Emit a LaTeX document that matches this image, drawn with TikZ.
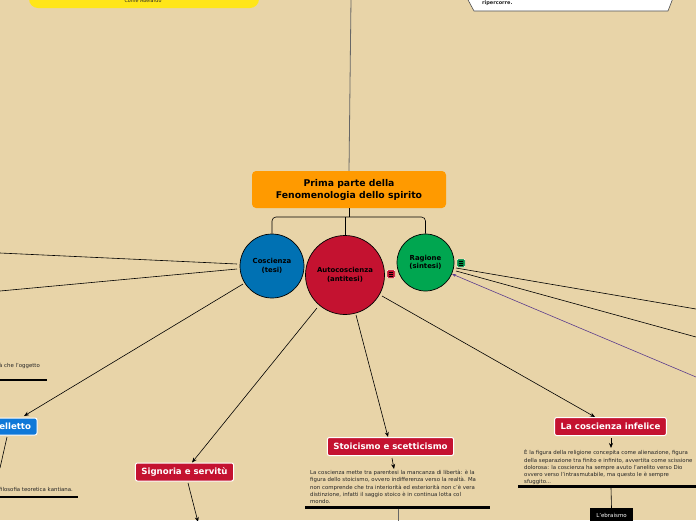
\documentclass[tikz,border=0pt]{standalone}
\usepackage{fontspec}
\setmainfont{DejaVu Sans}
\usetikzlibrary{arrows.meta}
\definecolor{bg}{HTML}{E8D4A8}
\definecolor{orangeN}{HTML}{FF9A00}
\definecolor{blueN}{HTML}{0071B3}
\definecolor{redN}{HTML}{C41230}
\definecolor{greenN}{HTML}{00A650}
\definecolor{yellowN}{HTML}{FFE619}
\definecolor{blueBox}{HTML}{0E78D8}
\definecolor{purpleL}{HTML}{5B3C8C}
\definecolor{txt}{HTML}{262626}
\tikzset{
  circ/.style={circle, draw=black, line width=0.7pt, inner sep=0pt, align=center,
    font=\fontsize{6.9}{8.4}\selectfont\bfseries, text=black},
  topicbox/.style={rounded corners=2pt, draw=white, line width=1pt, inner xsep=6pt,
    inner ysep=0pt, minimum height=18pt, text=white, font=\fontsize{8.6}{10}\selectfont\bfseries},
  para/.style={anchor=north west, align=left, inner sep=0pt, text=txt,
    font=\fontsize{5.4}{7.3}\selectfont},
  conn/.style={draw=black, line width=0.6pt},
  arr/.style={conn, -{Stealth[length=5pt,width=4pt]}},
  thick bar/.style={draw=black, line width=2.2pt},
  icon/.style={rounded corners=1pt, minimum size=8pt, inner sep=0pt, draw=white, line width=0.4pt}
}
\begin{document}
\begin{tikzpicture}[x=1pt,y=-1pt]
\clip (0,0) rectangle (696,520);
\fill[bg] (0,0) rectangle (696,520);

% top fragments
\fill[yellowN, rounded corners=9pt] (29,-30) rectangle (259,8);
\node[font=\fontsize{4.8}{5}\selectfont, text=txt, inner sep=0pt] (yel) at (143,1) {Come Abelardo};
\draw[fill=white, draw=black!70, line width=0.6pt] (467,-2) -- (474,11) -- (668,11) -- (673,-2);
\node[anchor=west, font=\fontsize{5}{6}\selectfont\bfseries, text=txt, inner sep=0pt] (rip) at (482,3) {ripercorre.};

% central node
\node[fill=orangeN, rounded corners=4pt, minimum width=194pt, minimum height=37pt, align=center,
  font=\fontsize{9.3}{12}\selectfont\bfseries, text=black, inner sep=0pt] (main) at (349,189.5)
  {Prima parte della\\Fenomenologia dello spirito};
\coordinate (topend) at (351,-1);
\draw[draw=black!60, line width=0.8pt] (topend) -- (main.north);

% circles
\node[circ, fill=blueN, minimum size=64pt] (cos) at (272,266) {Coscienza\\(tesi)};
\node[circ, fill=redN, minimum size=79pt] (auto) at (345,275) {Autocoscienza\\(antitesi)};
\node[circ, fill=greenN, minimum size=57pt] (rag) at (425.5,262.5) {Ragione\\(sintesi)};
\node[icon, fill=redN] (iconR) at (391,274) {};
\node[icon, fill=greenN!85!black] (iconG) at (461,263) {};
\foreach \ic in {iconR, iconG}{
  \foreach \dy in {-1.8,0,1.8}{
    \draw[black, line width=0.5pt] ([shift={(-2.2,\dy)}]\ic.center) -- ([shift={(2.2,\dy)}]\ic.center);
  }
}

% bracket connector
\coordinate (bar) at (349,217);
\draw[conn] (main.south) -- (bar);
\draw[conn, rounded corners=4pt] (cos.north) |- (bar) -| (rag.north);
\draw[conn] (auto.north) -- (auto.north |- bar);

% left free lines
\coordinate (L1) at (0,253);
\coordinate (L2) at (0,291);
\coordinate (c1) at (237,264);
\coordinate (c2) at (237,269);
\draw[conn] (c1) -- (L1);
\draw[conn] (c2) -- (L2);

% Intelletto
\node[topicbox, fill=blueBox, anchor=east, minimum height=17pt] (intel) at (37.5,426.5) {Intelletto};
\coordinate (cs) at (243,284);
\draw[arr] (cs) -- (24,416);
\coordinate (il) at (0,468);
\draw[conn] (7,437) -- (il);
\node[para, anchor=south west] (tl1) at (-1,369) {à che l'oggetto};
\draw[thick bar] (0,380) -- (47,380);
\node[para, anchor=south west] (tl2) at (-1,492) {filosofia teoretica kantiana.};
\draw[thick bar] (0,497) -- (78,497);

% Ragione free lines
\coordinate (r1) at (456,268);
\coordinate (r2) at (456,271);
\coordinate (R1) at (696,309);
\coordinate (R2) at (696,337);
\coordinate (R3) at (696,377);
\draw[conn] (r1) -- (R1);
\draw[conn] (r2) -- (R2);
\draw[draw=purpleL, line width=0.6pt, -{Stealth[length=4pt,width=3pt]}] (R3) -- (452,274);

% Signoria e servitu
\node[topicbox, fill=redN] (sig) at (184.5,472) {Signoria e servitù};
\draw[arr] (317,308) -- (sig.north -| 192,0);
\coordinate (sigend) at (198,522);
\draw[arr] (188,483) -- (sigend);

% Stoicismo
\node[topicbox, fill=redN] (sto) at (390.5,446.5) {Stoicismo e scetticismo};
\draw[arr] (356,315) -- (sto.north -| 388,0);
\draw[arr] (392,458) -- (394,469);
\node[para] (stot) at (310,470)
 {La coscienza mette tra parentesi la mancanza di libertà: è la\\
  figura dello stoicismo, ovvero indifferenza verso la realtà. Ma\\
  non comprende che tra interiorità ed esteriorità non c'è vera\\
  distinzione, infatti il saggio stoico è in continua lotta col\\
  mondo.};
\draw[thick bar] (305,507.5) -- (490,507.5);
\coordinate (stoend) at (398,521);
\draw[draw=black!60, line width=0.8pt] (398,508.5) -- (stoend);

% Coscienza infelice
\node[topicbox, fill=redN] (inf) at (610.5,426.5) {La coscienza infelice};
\draw[arr] (382,296) -- (inf.north -| 595,0);
\draw[arr] (611,438) -- (611,448);
\node[para] (inft) at (524,449.5)
 {È la figura della religione concepita come alienazione, figura\\
  della separazione tra finito e infinito, avvertita come scissione\\
  dolorosa: la coscienza ha sempre avuto l'anelito verso Dio\\
  ovvero verso l'intrasmutabile, ma questo le è sempre\\
  sfuggito...};
\draw[thick bar] (518,486.5) -- (697,486.5);
\node[fill=black, text=white, anchor=north, minimum width=43pt, minimum height=14pt, inner sep=0pt,
  font=\fontsize{5.5}{6}\selectfont] (ebr) at (611.5,508) {L'ebraismo};
\draw[conn] (611,488) -- (ebr.north);
\end{tikzpicture}
\end{document}
